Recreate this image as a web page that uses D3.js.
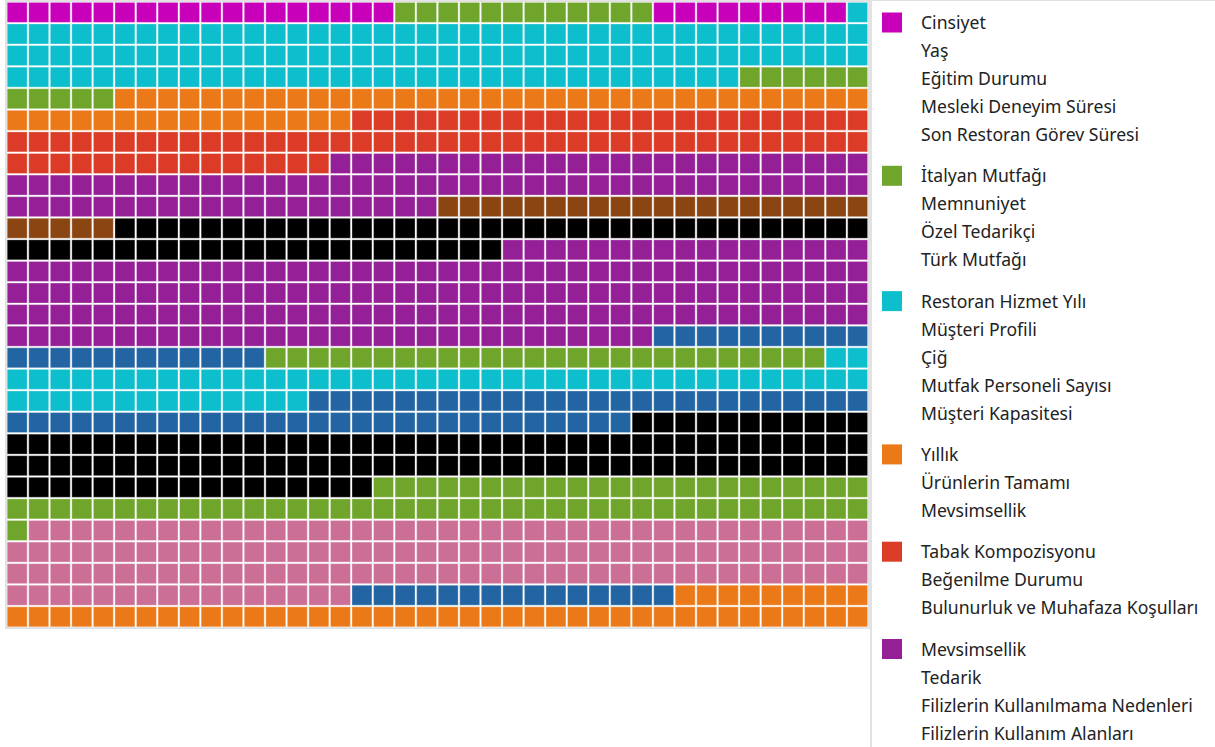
<!DOCTYPE html>
<html>
<head>
<meta charset="utf-8">
<script src="https://cdn.jsdelivr.net/npm/d3@7"></script>
<style>
  html, body { margin: 0; padding: 0; background: #fff; overflow: hidden; }
  text { font-family: "Noto Sans", "Open Sans", sans-serif; }
</style>
</head>
<body>
<svg id="waffle" width="1215" height="747"></svg>
<script>
const svg = d3.select('#waffle');

// group colours (waffle cells are coloured by group)
const groupColors = ['#c900b9', '#6fa52a', '#0dbecd', '#eb7917', '#dc3c27',
                     '#941f96', '#8b4513', '#000000', '#2365a3', '#cb6f97'];

// legend groups that are visible
const legendTitles = ['Cinsiyet', 'İtalyan Mutfağı', 'Restoran Hizmet Yılı',
                      'Yıllık', 'Tabak Kompozisyonu', 'Mevsimsellik'];
const legendItems = [
  ['Cinsiyet', 'Yaş', 'Eğitim Durumu', 'Mesleki Deneyim Süresi', 'Son Restoran Görev Süresi'],
  ['İtalyan Mutfağı', 'Memnuniyet', 'Özel Tedarikçi', 'Türk Mutfağı'],
  ['Restoran Hizmet Yılı', 'Müşteri Profili', 'Çiğ', 'Mutfak Personeli Sayısı', 'Müşteri Kapasitesi'],
  ['Yıllık', 'Ürünlerin Tamamı', 'Mevsimsellik'],
  ['Tabak Kompozisyonu', 'Beğenilme Durumu', 'Bulunurluk ve Muhafaza Koşulları'],
  ['Mevsimsellik', 'Tedarik', 'Filizlerin Kullanılmama Nedenleri', 'Filizlerin Kullanım Alanları']
];

// consecutive runs of cells: group index and number of cells
const runGroups = [0, 1, 0, 2, 1, 3, 4, 5, 6, 7, 5, 8, 1, 2, 8, 7, 1, 9, 8, 3];
const runCounts = [18, 12, 9, 115, 11, 51, 79, 85, 25, 58, 167, 22, 26, 56, 55, 108, 64, 135, 15, 49];

const nCols = 40;
const nRows = 29;

// expand runs into cells
const cells = [];
runGroups.forEach((g, i) => {
  for (let k = 0; k < runCounts[i]; k++) cells.push({group: g});
});
cells.forEach((d, i) => { d.col = i % nCols; d.row = Math.floor(i / nCols); });

const xScale = d3.scaleBand()
  .domain(d3.range(nCols))
  .range([7.2, 867.6])
  .paddingInner(0.075);

const yScale = d3.scaleBand()
  .domain(d3.range(nRows))
  .range([2.4, 626.8])
  .paddingInner(0.075);

const color = d3.scaleOrdinal()
  .domain(d3.range(groupColors.length))
  .range(groupColors);

// frames
svg.append('rect')
  .attr('x', 6).attr('y', 1)
  .attr('width', 863).attr('height', 627)
  .attr('fill', 'none')
  .attr('stroke', '#e2e2e2')
  .attr('stroke-width', 2);

svg.append('line')
  .attr('x1', 871).attr('x2', 871)
  .attr('y1', 0).attr('y2', 747)
  .attr('stroke', '#e2e2e2')
  .attr('stroke-width', 2);
svg.append('line')
  .attr('x1', 870).attr('x2', 1215)
  .attr('y1', 0.5).attr('y2', 0.5)
  .attr('stroke', '#e2e2e2')
  .attr('stroke-width', 1);

// cells
svg.append('g')
  .selectAll('rect')
  .data(cells)
  .enter()
  .append('rect')
    .attr('x', d => xScale(d.col))
    .attr('y', d => yScale(d.row))
    .attr('width', xScale.bandwidth())
    .attr('height', yScale.bandwidth())
    .attr('fill', d => color(d.group))
    .attr('stroke', '#fff')
    .attr('stroke-opacity', 0.3)
    .attr('stroke-width', 1);

// legend
const legend = svg.append('g');
let itemIndex = 0;
legendItems.forEach((items, g) => {
  items.forEach((name, j) => {
    const yc = 23 + 28 * itemIndex + 13.3 * g;
    if (j === 0) {
      legend.append('rect')
        .attr('x', 882).attr('y', yc - 10.5)
        .attr('width', 20).attr('height', 20)
        .attr('fill', color(g));
    }
    legend.append('text')
      .attr('x', 921)
      .attr('y', yc)
      .attr('dy', '0.35em')
      .attr('font-size', 17.6)
      .attr('fill', '#222')
      .text(name);
    itemIndex++;
  });
});
</script>
</body>
</html>
